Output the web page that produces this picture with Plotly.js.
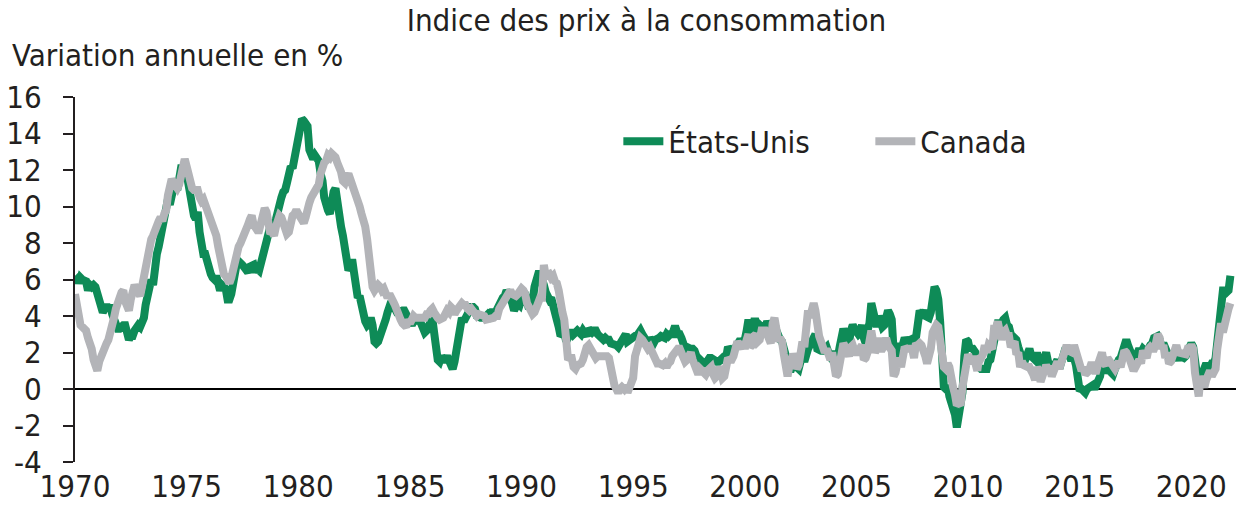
<!DOCTYPE html>
<html>
<head>
<meta charset="utf-8">
<script src="https://cdn.plot.ly/plotly-3.0.1.min.js"></script>
<style>
html,body{margin:0;padding:0;background:#fff;}
#chart{width:1236px;height:514px;}
</style>
</head>
<body>
<div id="chart"></div>
<script>
// Monthly series start January 1970
const startYear = 1970;
const seriesNames = ["États-Unis", "Canada"];

// États-Unis: IPC, variation annuelle en % (mensuel, janv. 1970 - oct. 2021)
const usa = [
6.2,6.1,5.8,6.1,6.0,6.0,5.9,5.4,5.7,5.6,5.7,5.6,
5.3,5.0,4.7,4.2,4.4,4.6,4.4,4.6,4.1,3.8,3.3,3.3,
3.3,3.5,3.5,3.5,3.2,2.7,2.9,2.9,3.2,3.4,3.5,3.4,
3.6,3.9,4.6,5.1,5.5,6.0,5.7,7.4,7.4,7.8,8.3,8.7,
9.4,10.0,10.4,10.1,10.7,10.9,11.5,10.9,12.1,12.1,12.1,12.3,
11.8,11.2,10.3,10.2,9.5,9.3,9.7,8.6,7.9,7.4,7.4,6.9,
6.7,6.3,6.1,6.0,6.2,5.4,5.4,5.7,5.5,5.5,4.9,4.9,
5.2,6.0,6.4,6.9,6.7,6.9,6.8,6.6,6.6,6.4,6.7,6.7,
6.8,6.4,6.6,6.5,6.9,7.4,7.7,7.8,8.3,8.9,8.9,9.0,
9.3,9.9,10.1,10.5,10.8,10.9,11.3,11.8,12.2,12.1,12.6,13.3,
13.9,14.2,14.8,14.7,14.4,14.4,13.1,12.9,12.6,12.8,12.6,12.5,
11.8,11.4,10.5,10.0,9.8,9.6,10.8,10.8,11.0,10.1,9.6,8.9,
8.4,7.6,6.8,6.5,6.7,7.1,6.4,5.9,5.0,5.1,4.6,3.8,
3.7,3.5,3.6,3.9,3.5,2.6,2.5,2.6,2.9,2.9,3.3,3.8,
4.2,4.6,4.8,4.6,4.2,4.2,4.2,4.3,4.3,4.3,4.1,3.9,
3.5,3.5,3.7,3.7,3.8,3.8,3.6,3.3,3.1,3.2,3.5,3.8,
3.9,3.1,2.2,1.6,1.5,1.8,1.6,1.6,1.8,1.5,1.3,1.1,
1.5,2.1,3.0,3.8,3.9,3.7,3.9,4.3,4.4,4.5,4.5,4.4,
4.0,3.9,3.9,3.9,3.9,4.0,4.1,4.0,4.2,4.2,4.2,4.4,
4.7,4.8,5.0,5.1,5.4,5.2,5.0,4.7,4.3,4.5,4.7,4.6,
5.2,5.3,5.2,4.7,4.4,4.7,4.8,5.6,6.2,6.3,6.3,6.1,
5.7,5.3,4.9,4.9,5.0,4.7,4.4,3.8,3.4,2.9,3.0,3.1,
2.6,2.8,3.2,3.2,3.0,3.1,3.2,3.1,3.0,3.2,3.0,2.9,
3.3,3.2,3.1,3.2,3.2,3.0,2.8,2.8,2.7,2.8,2.7,2.7,
2.5,2.5,2.5,2.4,2.3,2.5,2.8,2.9,3.0,2.6,2.7,2.7,
2.8,2.9,2.9,3.1,3.2,3.0,2.8,2.6,2.5,2.8,2.6,2.5,
2.7,2.7,2.8,2.9,2.9,2.8,3.0,2.9,3.0,3.0,3.3,3.3,
3.0,3.0,2.8,2.5,2.2,2.3,2.2,2.2,2.2,2.1,1.8,1.7,
1.6,1.4,1.4,1.4,1.7,1.7,1.7,1.6,1.5,1.5,1.5,1.6,
1.7,1.6,1.7,2.3,2.1,2.0,2.1,2.3,2.6,2.6,2.6,2.7,
2.7,3.2,3.8,3.1,3.2,3.7,3.7,3.4,3.5,3.4,3.4,3.4,
3.7,3.5,2.9,3.3,3.6,3.2,2.7,2.7,2.6,2.1,1.9,1.6,
1.1,1.1,1.5,1.6,1.2,1.1,1.5,1.8,1.5,2.0,2.2,2.4,
2.6,3.0,3.0,2.2,2.1,2.1,2.1,2.2,2.3,2.0,1.8,1.9,
1.9,1.7,1.7,2.3,3.1,3.3,3.0,2.7,2.5,3.2,3.5,3.3,
3.0,3.0,3.1,3.5,2.8,2.5,3.2,3.6,4.7,4.3,3.5,3.4,
4.0,3.6,3.4,3.5,4.2,4.3,4.1,3.8,2.1,1.3,2.0,2.5,
2.1,2.4,2.8,2.6,2.7,2.7,2.4,2.0,2.8,3.5,4.3,4.1,
4.3,4.0,4.0,3.9,4.2,5.0,5.6,5.4,4.9,3.7,1.1,0.1,
0.0,0.2,-0.4,-0.7,-1.3,-1.4,-2.1,-1.5,-1.3,-0.2,1.8,2.7,
2.6,2.1,2.3,2.2,2.0,1.1,1.2,1.1,1.1,1.2,1.1,1.5,
1.6,2.1,2.7,3.2,3.6,3.6,3.6,3.8,3.9,3.5,3.4,3.0,
2.9,2.9,2.7,2.3,1.7,1.7,1.4,1.7,2.0,2.2,1.8,1.7,
1.6,2.0,1.5,1.1,1.4,1.8,2.0,1.5,1.2,1.0,1.2,1.5,
1.6,1.1,1.5,2.0,2.1,2.1,2.0,1.7,1.7,1.7,1.3,0.8,
-0.1,0.0,-0.1,-0.2,0.0,0.1,0.2,0.2,0.0,0.2,0.5,0.7,
1.4,1.0,0.9,1.1,1.0,1.0,0.8,1.1,1.5,1.6,1.7,2.1,
2.5,2.7,2.4,2.2,1.9,1.6,1.7,1.9,2.2,2.0,2.2,2.1,
2.1,2.2,2.4,2.5,2.8,2.9,2.9,2.7,2.3,2.5,2.2,1.9,
1.6,1.5,1.9,2.0,1.8,1.6,1.8,1.7,1.7,1.8,2.1,2.3,
2.5,2.3,1.5,0.3,0.1,0.6,1.0,1.3,1.4,1.2,1.2,1.4,
1.4,1.7,2.6,4.2,5.0,5.4,5.4,5.3,5.4,6.2
];

// Canada: IPC, variation annuelle en % (mensuel, janv. 1970 - oct. 2021)
const canada = [
5.2,4.4,3.7,3.5,3.4,3.3,3.2,2.8,2.6,2.2,1.6,1.2,
1.0,1.5,1.8,2.0,2.2,2.5,2.7,3.0,3.4,3.9,4.4,4.9,
5.0,5.3,5.4,4.8,4.4,4.3,4.9,5.4,5.7,5.5,5.3,5.1,
5.6,6.1,6.8,7.5,7.9,8.2,8.4,8.8,9.2,9.2,9.4,9.2,
9.6,9.8,10.6,11.4,11.5,11.3,11.0,11.0,11.2,11.6,12.1,12.6,
12.2,11.6,11.3,11.0,10.9,10.9,10.9,10.5,10.3,10.4,10.1,9.8,
9.5,9.3,9.1,8.9,8.4,7.8,7.2,6.8,6.3,6.2,5.9,5.8,
6.1,6.6,7.2,7.5,7.8,8.0,8.2,8.6,8.8,9.0,9.3,9.5,
9.0,8.8,8.7,8.7,9.1,9.6,9.9,9.7,8.9,8.5,8.6,8.4,
8.9,9.3,9.5,9.4,9.1,8.9,8.5,8.6,9.2,9.5,9.6,9.8,
9.6,9.4,9.2,9.1,9.4,10.0,10.2,10.5,10.7,10.9,11.2,11.2,
11.8,12.2,12.4,12.5,12.8,12.7,12.9,12.8,12.7,12.4,12.2,11.9,
11.4,11.3,11.6,11.8,11.5,11.3,10.9,10.6,10.4,10.0,9.6,9.3,
8.9,8.2,7.3,6.4,5.6,5.4,5.6,5.7,5.6,5.4,5.5,5.3,
5.0,5.2,4.8,4.8,4.6,4.2,3.9,3.8,3.6,3.5,3.4,3.8,
3.6,3.8,4.0,3.9,3.9,4.0,3.9,3.9,3.9,4.1,4.1,4.3,
4.4,4.2,3.9,3.9,3.8,3.8,3.9,4.1,4.3,4.2,4.5,4.4,
4.1,4.3,4.5,4.6,4.7,4.6,4.6,4.4,4.3,4.4,4.2,4.2,
4.0,4.1,4.1,4.0,4.0,3.8,3.8,3.9,3.8,3.9,4.0,4.0,
4.4,4.6,4.7,4.8,5.2,5.4,5.4,5.2,5.1,5.1,5.2,5.3,
5.5,5.4,5.2,4.7,4.5,4.2,4.1,4.2,4.5,4.7,5.0,5.0,
6.8,6.2,6.3,6.3,6.1,6.2,5.9,5.8,5.4,4.4,4.2,3.8,
1.6,1.6,1.7,1.7,1.2,1.1,1.3,1.3,1.4,1.6,2.1,2.3,
2.4,2.2,1.9,1.8,1.7,1.8,1.8,1.8,1.9,1.8,1.8,1.7,
1.2,0.3,0.2,0.0,-0.2,0.0,0.1,0.0,0.2,-0.2,0.1,0.4,
0.6,1.8,2.2,2.6,2.8,2.7,2.5,2.3,2.2,2.3,2.0,1.7,
1.6,1.4,1.4,1.3,1.3,1.4,1.2,1.4,1.5,1.8,2.0,2.2,
2.2,2.2,1.9,1.7,1.5,1.6,1.8,2.0,1.6,1.4,1.0,0.8,
1.1,1.0,0.9,0.8,1.0,1.2,1.2,0.8,0.6,0.7,1.2,1.0,
0.6,0.7,1.0,1.7,1.6,1.6,1.8,2.1,2.6,2.4,2.2,2.6,
2.2,2.7,3.0,2.3,2.4,2.9,3.0,2.6,2.7,3.2,3.2,3.2,
3.0,2.5,2.5,3.6,3.9,3.3,2.6,2.8,2.6,1.9,0.7,0.7,
1.3,1.6,1.9,1.7,1.1,1.3,2.1,2.6,2.3,3.2,4.3,3.9,
4.5,4.7,4.3,3.0,2.9,2.6,2.2,2.0,2.2,1.6,1.6,2.0,
1.2,0.7,0.8,1.6,2.5,2.5,2.3,1.9,1.8,2.3,2.4,2.1,
1.9,2.1,2.3,2.4,1.6,1.7,2.0,2.6,3.2,2.6,2.0,2.2,
2.8,2.2,2.2,2.4,2.8,2.4,2.3,2.1,0.7,0.9,1.4,1.7,
1.2,2.0,2.3,2.2,2.2,2.2,2.2,1.7,2.5,2.4,2.5,2.4,
2.2,1.8,1.4,1.7,2.2,3.1,3.4,3.5,3.4,2.6,2.0,1.2,
1.1,1.4,1.2,0.4,0.1,-0.3,-0.9,-0.8,-0.9,0.1,1.0,1.3,
1.9,1.6,1.4,1.8,1.4,1.0,1.8,1.7,1.9,2.4,2.0,2.4,
2.3,2.2,3.3,3.3,3.7,3.1,2.7,3.1,3.2,2.9,2.9,2.3,
2.5,2.6,1.9,2.0,1.2,1.5,1.3,1.2,1.2,1.2,0.8,0.8,
0.5,1.2,1.0,0.4,0.7,1.2,1.3,1.1,1.1,0.7,0.9,1.2,
1.5,1.1,1.5,2.0,2.3,2.4,2.1,2.1,2.0,2.4,2.0,1.5,
1.0,1.0,1.2,0.8,0.9,1.0,1.3,1.3,1.0,1.0,1.4,1.6,
2.0,1.4,1.3,1.7,1.5,1.5,1.3,1.1,1.3,1.5,1.2,1.5,
2.1,2.0,1.6,1.6,1.3,1.0,1.2,1.4,1.6,1.4,2.1,1.9,
1.7,2.2,2.3,2.2,2.2,2.5,3.0,2.8,2.2,2.4,1.7,2.0,
1.4,1.5,1.9,2.0,2.4,2.0,2.0,1.9,1.9,1.9,2.2,2.2,
2.4,2.2,0.9,-0.2,-0.4,0.7,0.1,0.1,0.5,0.7,1.0,0.7,
1.0,1.1,2.2,3.4,3.6,3.1,3.7,4.1,4.4,4.7
];

const yTickVals = [-4,-2,0,2,4,6,8,10,12,14,16];
const yTickText = ["-4","-2","0","2","4","6","8","10","12","14","16"];
const xTickVals = ["1970-01-01","1975-01-01","1980-01-01","1985-01-01","1990-01-01","1995-01-01","2000-01-01","2005-01-01","2010-01-01","2015-01-01","2020-01-01"];
const xTickText = ["1970","1975","1980","1985","1990","1995","2000","2005","2010","2015","2020"];

function monthDates(n) {
  const out = [];
  for (let i = 0; i < n; i++) {
    const y = startYear + Math.floor(i / 12);
    const m = (i % 12) + 1;
    out.push(y + "-" + (m < 10 ? "0" + m : m) + "-01");
  }
  return out;
}

const FONT = "'Liberation Sans Narrow', 'Arial Narrow', 'DejaVu Sans Condensed', sans-serif";
const TXT = "#231F20";

const traces = [
  {x: monthDates(usa.length), y: usa, name: seriesNames[0], type: "scatter", mode: "lines",
   line: {color: "#0E8B57", width: 8}},
  {x: monthDates(canada.length), y: canada, name: seriesNames[1], type: "scatter", mode: "lines",
   line: {color: "#B3B4B8", width: 8}}
];

const layout = {
  width: 1236, height: 514,
  margin: {l: 75, r: 0, t: 97, b: 52},
  paper_bgcolor: "#fff", plot_bgcolor: "#fff",
  font: {family: FONT, size: 31, color: TXT},
  title: {text: "Indice des prix à la consommation", x: 0.523, xref: "container", xanchor: "center",
          y: 0.960, yref: "container", yanchor: "middle", font: {family: FONT, size: 31, color: TXT}},
  showlegend: true,
  legend: {orientation: "h", x: 0.468, y: 0.878, xanchor: "left", yanchor: "middle",
           font: {family: FONT, size: 31, color: TXT}, bgcolor: "rgba(0,0,0,0)",
           entrywidth: 197, entrywidthmode: "pixels", itemwidth: 40},
  xaxis: {type: "date", range: ["1970-01-01", "2022-01-01"], tickvals: xTickVals, ticktext: xTickText,
          showgrid: false, zeroline: false, showline: false, ticks: "",
          tickfont: {family: FONT, size: 31, color: TXT}, ticklabelstandoff: 3},
  yaxis: {range: [-4, 16], tickvals: yTickVals, ticktext: yTickText, showgrid: false,
          zeroline: true, zerolinecolor: "#000", zerolinewidth: 2,
          showline: true, linecolor: "#231F20", linewidth: 2,
          ticks: "outside", ticklen: 10, tickwidth: 2, tickcolor: "#231F20",
          tickfont: {family: FONT, size: 31, color: TXT}, ticklabelstandoff: 15},
  annotations: [
    {text: "Variation annuelle en %", xref: "paper", yref: "paper", x: -0.056, y: 1.115,
     xanchor: "left", yanchor: "middle", showarrow: false, font: {family: FONT, size: 31, color: TXT}}
  ]
};

Plotly.newPlot("chart", traces, layout, {displayModeBar: false, staticPlot: true});
</script>
</body>
</html>
